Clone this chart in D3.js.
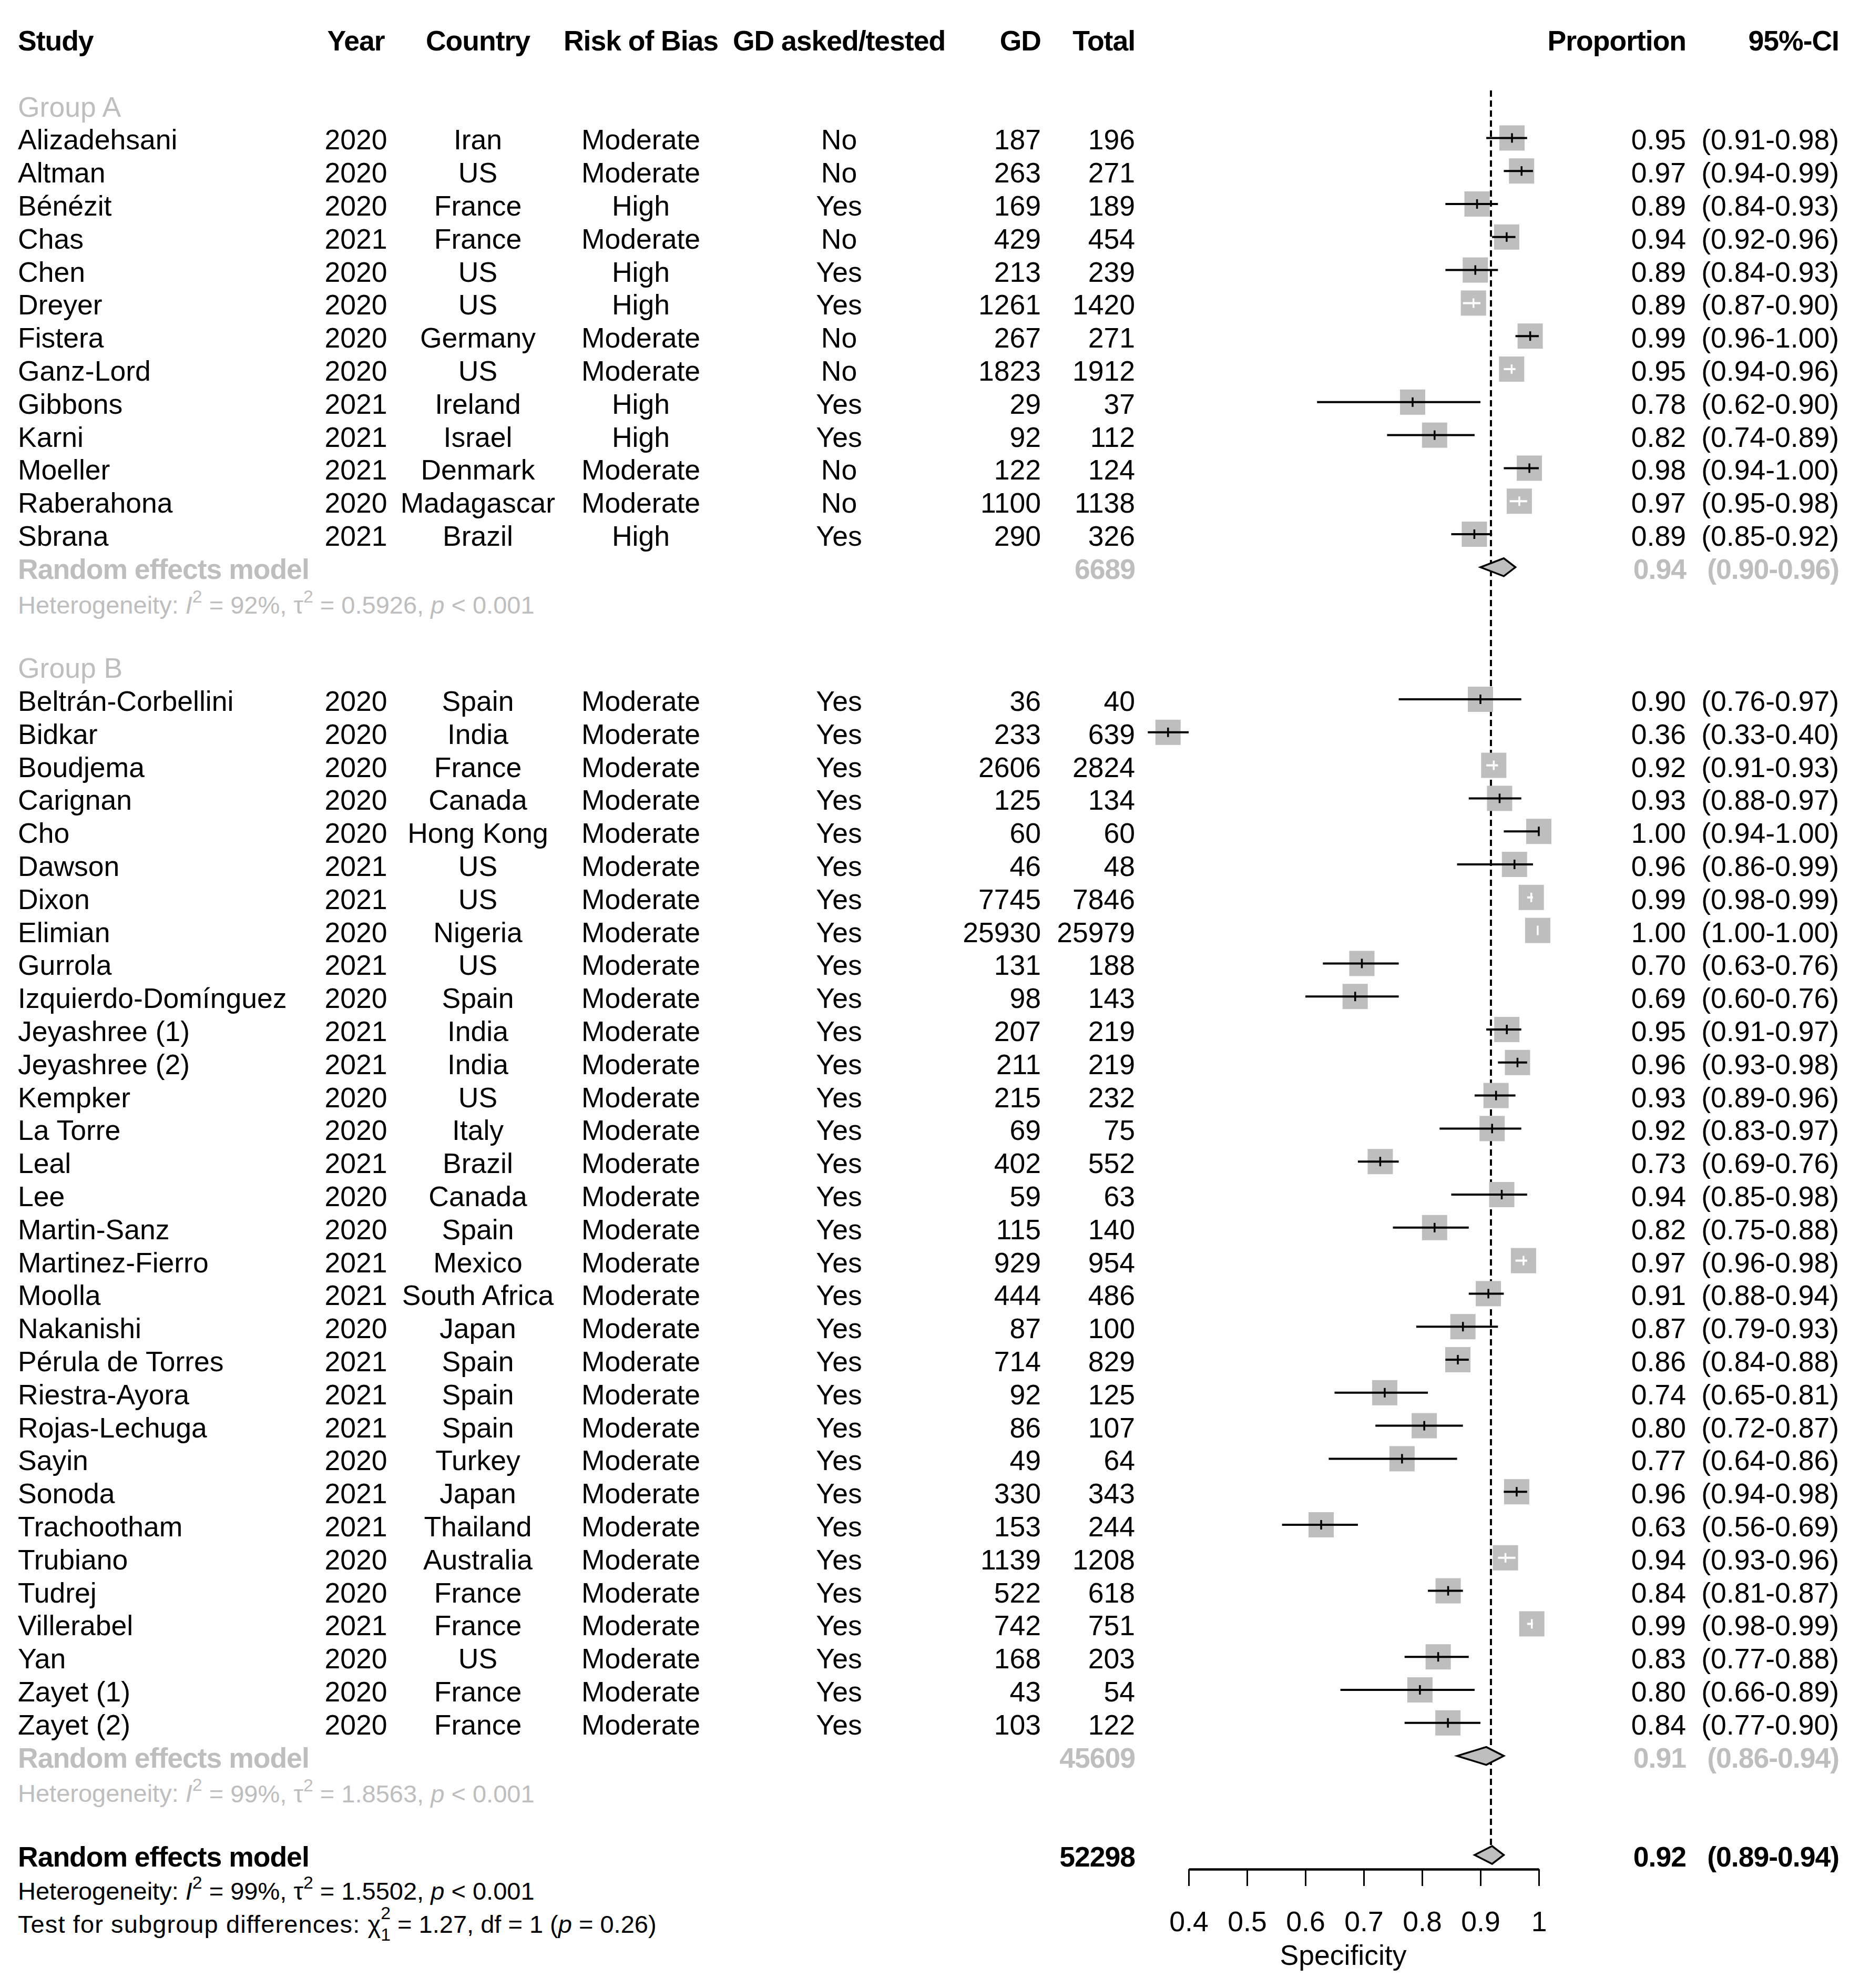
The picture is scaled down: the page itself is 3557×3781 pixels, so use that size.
<!DOCTYPE html>
<html>
<head>
<meta charset="utf-8">
<title>Forest plot - Specificity</title>
<script src="https://cdn.jsdelivr.net/npm/d3@7"></script>
<style>
  body { margin: 0; background: #fff; }
  text { font-family: "Liberation Sans", Arial, sans-serif; }
</style>
</head>
<body>
<div id="chart"></div>
<script>
// ---- data: group A ----
const studyA   = ["Alizadehsani","Altman","Bénézit","Chas","Chen","Dreyer","Fistera","Ganz-Lord","Gibbons","Karni","Moeller","Raberahona","Sbrana"];
const yearA    = [2020,2020,2020,2021,2020,2020,2020,2020,2021,2021,2021,2020,2021];
const countryA = ["Iran","US","France","France","US","US","Germany","US","Ireland","Israel","Denmark","Madagascar","Brazil"];
const biasA    = ["Moderate","Moderate","High","Moderate","High","High","Moderate","Moderate","High","High","Moderate","Moderate","High"];
const askedA   = ["No","No","Yes","No","Yes","Yes","No","No","Yes","Yes","No","No","Yes"];
const gdA      = [187,263,169,429,213,1261,267,1823,29,92,122,1100,290];
const totalA   = [196,271,189,454,239,1420,271,1912,37,112,124,1138,326];
const propA    = [0.95,0.97,0.89,0.94,0.89,0.89,0.99,0.95,0.78,0.82,0.98,0.97,0.89];
const lowerA   = [0.91,0.94,0.84,0.92,0.84,0.87,0.96,0.94,0.62,0.74,0.94,0.95,0.85];
const upperA   = [0.98,0.99,0.93,0.96,0.93,0.90,1.00,0.96,0.90,0.89,1.00,0.98,0.92];

// ---- data: group B ----
const studyB   = ["Beltrán-Corbellini","Bidkar","Boudjema","Carignan","Cho","Dawson","Dixon","Elimian","Gurrola","Izquierdo-Domínguez","Jeyashree (1)","Jeyashree (2)","Kempker","La Torre","Leal","Lee","Martin-Sanz","Martinez-Fierro","Moolla","Nakanishi","Pérula de Torres","Riestra-Ayora","Rojas-Lechuga","Sayin","Sonoda","Trachootham","Trubiano","Tudrej","Villerabel","Yan","Zayet (1)","Zayet (2)"];
const yearB    = [2020,2020,2020,2020,2020,2021,2021,2020,2021,2020,2021,2021,2020,2020,2021,2020,2020,2021,2021,2020,2021,2021,2021,2020,2021,2021,2020,2020,2021,2020,2020,2020];
const countryB = ["Spain","India","France","Canada","Hong Kong","US","US","Nigeria","US","Spain","India","India","US","Italy","Brazil","Canada","Spain","Mexico","South Africa","Japan","Spain","Spain","Spain","Turkey","Japan","Thailand","Australia","France","France","US","France","France"];
const biasB    = studyB.map(() => "Moderate");
const askedB   = studyB.map(() => "Yes");
const gdB      = [36,233,2606,125,60,46,7745,25930,131,98,207,211,215,69,402,59,115,929,444,87,714,92,86,49,330,153,1139,522,742,168,43,103];
const totalB   = [40,639,2824,134,60,48,7846,25979,188,143,219,219,232,75,552,63,140,954,486,100,829,125,107,64,343,244,1208,618,751,203,54,122];
const propB    = [0.90,0.36,0.92,0.93,1.00,0.96,0.99,1.00,0.70,0.69,0.95,0.96,0.93,0.92,0.73,0.94,0.82,0.97,0.91,0.87,0.86,0.74,0.80,0.77,0.96,0.63,0.94,0.84,0.99,0.83,0.80,0.84];
const lowerB   = [0.76,0.33,0.91,0.88,0.94,0.86,0.98,1.00,0.63,0.60,0.91,0.93,0.89,0.83,0.69,0.85,0.75,0.96,0.88,0.79,0.84,0.65,0.72,0.64,0.94,0.56,0.93,0.81,0.98,0.77,0.66,0.77];
const upperB   = [0.97,0.40,0.93,0.97,1.00,0.99,0.99,1.00,0.76,0.76,0.97,0.98,0.96,0.97,0.76,0.98,0.88,0.98,0.94,0.93,0.88,0.81,0.87,0.86,0.98,0.69,0.96,0.87,0.99,0.88,0.89,0.90];

// ---- pooled estimates ----
const groupNames   = ["Group A","Group B"];
const pooledTotal  = [6689, 45609];
const pooledEst    = [0.94, 0.91];
const pooledLower  = [0.90, 0.86];
const pooledUpper  = [0.96, 0.94];
const hetI2        = ["92%","99%"];
const hetTau2      = ["0.5926","1.8563"];
const overallTotal = 52298, overallEst = 0.92, overallLower = 0.89, overallUpper = 0.94;
const overallI2 = "99%", overallTau2 = "1.5502";
const refLine = 0.918;
const xTicks = [0.4, 0.5, 0.6, 0.7, 0.8, 0.9, 1];
const headers = ["Study","Year","Country","Risk of Bias","GD asked/tested","GD","Total","Proportion","95%-CI"];

// ---- layout ----
const W = 3557, H = 3781;
const FS = 53.5, FS_SMALL = 47;
const GRAY = "#bebebe";
const colX = { study: 34, year: 677, country: 909, bias: 1219, asked: 1596, gd: 1980, total: 2159, prop: 3207, ci: 3498 };

const svg = d3.select("#chart").append("svg")
  .attr("width", W).attr("height", H)
  .attr("viewBox", `0 0 ${W} ${H}`);
svg.append("rect").attr("width", W).attr("height", H).attr("fill", "#fff");

// baseline position of each text line
const yRow = d3.scaleLinear().domain([0, 57]).range([96, 96 + 57 * 62.8]);
const markOff = -22;
const x = d3.scaleLinear().domain([0.4, 1]).range([2261, 2927]);

// assemble rows
const studies = [];
const groups = [
  { studies: studyA, year: yearA, country: countryA, bias: biasA, asked: askedA, gd: gdA, total: totalA, prop: propA, lo: lowerA, hi: upperA },
  { studies: studyB, year: yearB, country: countryB, bias: biasB, asked: askedB, gd: gdB, total: totalB, prop: propB, lo: lowerB, hi: upperB }
];
const groupRows = [];
let r = 2;
groups.forEach((g, gi) => {
  groupRows.push({ label: r });
  r++;
  g.studies.forEach((s, i) => {
    studies.push({ row: r, name: s, year: g.year[i], country: g.country[i], bias: g.bias[i], asked: g.asked[i],
      gd: g.gd[i], total: g.total[i], prop: g.prop[i], lo: g.lo[i], hi: g.hi[i] });
    r++;
  });
  groupRows[gi].rem = r;
  groupRows[gi].het = r + 1;
  r += 3;
});
const overallRow = r;   // 55

const fmt2 = d3.format(".2f");
const ciText = (lo, hi) => `(${fmt2(lo)}-${fmt2(hi)})`;

function txt(xp, y, s, anchor, opts = {}) {
  const t = svg.append("text")
    .attr("x", xp).attr("y", y)
    .attr("text-anchor", anchor || "start")
    .attr("font-size", opts.size || FS)
    .attr("fill", opts.color || "#000")
    .text(s);
  if (opts.bold) t.attr("font-weight", "bold").attr("letter-spacing", "-1px");
  return t;
}

// ---- header ----
const hy = yRow(0);
const hb = { bold: true };
txt(colX.study, hy, headers[0], "start", hb);
txt(colX.year, hy, headers[1], "middle", hb);
txt(colX.country, hy, headers[2], "middle", hb);
txt(colX.bias, hy, headers[3], "middle", hb);
txt(colX.asked, hy, headers[4], "middle", hb);
txt(colX.gd, hy, headers[5], "end", hb);
txt(colX.total, hy, headers[6], "end", hb);
txt(colX.prop, hy, headers[7], "end", hb);
txt(colX.ci, hy, headers[8], "end", hb);

// ---- reference dashed line ----
svg.append("line")
  .attr("x1", x(refLine)).attr("x2", x(refLine))
  .attr("y1", 172).attr("y2", yRow(overallRow) + markOff - 16)
  .attr("stroke", "#000").attr("stroke-width", 4)
  .attr("stroke-dasharray", "12,7");

// ---- study rows ----
const BOX = 48;
studies.forEach(d => {
  const y = yRow(d.row);
  txt(colX.study, y, d.name, "start");
  txt(colX.year, y, d.year, "middle");
  txt(colX.country, y, d.country, "middle");
  txt(colX.bias, y, d.bias, "middle");
  txt(colX.asked, y, d.asked, "middle");
  txt(colX.gd, y, d.gd, "end");
  txt(colX.total, y, d.total, "end");
  txt(colX.prop, y, fmt2(d.prop), "end");
  txt(colX.ci, y, ciText(d.lo, d.hi), "end");
});

const marks = svg.append("g");
studies.forEach(d => {
  const cy = yRow(d.row) + markOff;
  const est = d.gd / d.total;
  const cx = x(est);
  marks.append("rect")
    .attr("x", cx - BOX / 2).attr("y", cy - BOX / 2)
    .attr("width", BOX).attr("height", BOX)
    .attr("fill", GRAY);
  const inside = x(d.lo) >= cx - BOX / 2 + 1 && x(d.hi) <= cx + BOX / 2 - 1;
  const col = inside ? "#fff" : "#000";
  marks.append("line")
    .attr("x1", x(d.lo)).attr("x2", x(d.hi))
    .attr("y1", cy).attr("y2", cy)
    .attr("stroke", col).attr("stroke-width", 4);
  marks.append("line")
    .attr("x1", cx).attr("x2", cx)
    .attr("y1", cy - 9).attr("y2", cy + 9)
    .attr("stroke", col).attr("stroke-width", 3.5);
});

// ---- diamonds ----
function diamond(est, lo, hi, cy) {
  const h = 17;
  svg.append("path")
    .attr("d", `M${x(lo)},${cy} L${x(est)},${cy - h} L${x(hi)},${cy} L${x(est)},${cy + h} Z`)
    .attr("fill", GRAY).attr("stroke", "#000").attr("stroke-width", 3.5);
}

// heterogeneity line with italic / super-scripts
function hetLine(y, i2, tau2, color) {
  const t = svg.append("text")
    .attr("x", colX.study).attr("y", y)
    .attr("font-size", FS_SMALL).attr("fill", color);
  t.append("tspan").text("Heterogeneity: ");
  t.append("tspan").attr("font-style", "italic").text("I");
  t.append("tspan").attr("font-size", "72%").attr("dy", "-0.62em").text("2");
  t.append("tspan").attr("dy", "0.45em").text(` = ${i2}, τ`);
  t.append("tspan").attr("font-size", "72%").attr("dy", "-0.62em").text("2");
  t.append("tspan").attr("dy", "0.45em").text(` = ${tau2}, `);
  t.append("tspan").attr("font-style", "italic").text("p");
  t.append("tspan").text(" < 0.001");
  return t;
}

groupRows.forEach((g, gi) => {
  txt(colX.study, yRow(g.label), groupNames[gi], "start", { color: GRAY });
  const y = yRow(g.rem);
  txt(colX.study, y, "Random effects model", "start", { color: GRAY, bold: true });
  txt(colX.total, y, pooledTotal[gi], "end", { color: GRAY, bold: true });
  txt(colX.prop, y, fmt2(pooledEst[gi]), "end", { color: GRAY, bold: true });
  txt(colX.ci, y, ciText(pooledLower[gi], pooledUpper[gi]), "end", { color: GRAY, bold: true });
  diamond(pooledEst[gi], pooledLower[gi], pooledUpper[gi], y + markOff);
  hetLine(yRow(g.het) + 3, hetI2[gi], hetTau2[gi], GRAY);
});

// ---- overall ----
const oy = yRow(overallRow);
txt(colX.study, oy, "Random effects model", "start", { bold: true });
txt(colX.total, oy, overallTotal, "end", { bold: true });
txt(colX.prop, oy, fmt2(overallEst), "end", { bold: true });
txt(colX.ci, oy, ciText(overallLower, overallUpper), "end", { bold: true });
diamond(overallEst, overallLower, overallUpper, oy + markOff);
hetLine(yRow(overallRow + 1), overallI2, overallTau2, "#000");

const tst = svg.append("text").attr("x", colX.study).attr("y", yRow(overallRow + 2)).attr("font-size", FS_SMALL);
tst.append("tspan").attr("letter-spacing", "1.1px").text("Test for subgroup differences: ");
tst.append("tspan").text("χ");
tst.append("tspan").attr("font-size", "72%").attr("dy", "-0.75em").text("2");
tst.append("tspan").attr("font-size", "72%").attr("dx", "-0.556em").attr("dy", "1.2em").text("1");
tst.append("tspan").attr("dy", "-0.32em").text(" = 1.27, df = 1 (");
tst.append("tspan").attr("font-style", "italic").text("p");
tst.append("tspan").text(" = 0.26)");

// ---- x axis ----
const axisY = 3555;
const axis = d3.axisBottom(x)
  .tickValues(xTicks)
  .tickSize(32)
  .tickSizeOuter(0)
  .tickPadding(48)
  .tickFormat(d => d === 1 ? "1" : d3.format(".1f")(d));
const ax = svg.append("g").attr("transform", `translate(0,${axisY})`).call(axis);
ax.select(".domain").attr("stroke-width", 4.5);
ax.selectAll(".tick line").attr("stroke-width", 3);
ax.selectAll(".tick text")
  .attr("font-size", FS).attr("font-family", "'Liberation Sans', Arial, sans-serif").attr("fill", "#000");

txt(2555, 3737, "Specificity", "middle");
</script>
</body>
</html>
